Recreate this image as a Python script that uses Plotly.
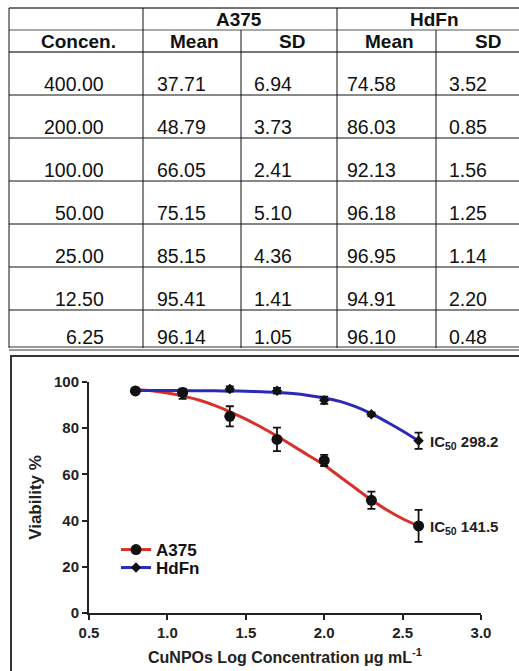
import plotly.graph_objects as go

# ---------------- data ----------------
conc_labels = ["400.00", "200.00", "100.00", "50.00", "25.00", "12.50", "6.25"]
log_conc = [2.602, 2.301, 2.000, 1.699, 1.398, 1.097, 0.796]
a375_mean = [37.71, 48.79, 66.05, 75.15, 85.15, 95.41, 96.14]
a375_sd = [6.94, 3.73, 2.41, 5.10, 4.36, 1.41, 1.05]
hdfn_mean = [74.58, 86.03, 92.13, 96.18, 96.95, 94.91, 96.10]
hdfn_sd = [3.52, 0.85, 1.56, 1.25, 1.14, 2.20, 0.48]

# fitted dose-response curves
fit_x = [0.80, 0.90, 1.00, 1.10, 1.20, 1.30, 1.40, 1.50, 1.60, 1.70,
         1.80, 1.90, 2.00, 2.10, 2.20, 2.30, 2.40, 2.50, 2.60]
a375_fit = [96.8, 96.2, 95.2, 93.9, 92.2, 89.9, 87.1, 83.9, 80.4, 76.5,
            72.4, 68.2, 64.0, 59.0, 54.0, 49.0, 44.6, 40.8, 37.7]
hdfn_fit = [96.3, 96.3, 96.3, 96.3, 96.2, 96.2, 96.1, 96.0, 95.8, 95.5,
            95.0, 94.2, 93.1, 91.6, 89.3, 86.3, 82.7, 78.8, 74.6]

group_labels = ["A375", "HdFn"]
sub_labels = ["Concen.", "Mean", "SD", "Mean", "SD"]
ic50_labels = ["IC<sub>50</sub> 141.5", "IC<sub>50</sub> 298.2"]

x_ticks = [0.5, 1.0, 1.5, 2.0, 2.5, 3.0]
y_ticks = [0, 20, 40, 60, 80, 100]

# ---------------- layout helpers ----------------
W, H = 519, 671
def fx(p):
    return p / W
def fy(p):
    return 1 - p / H

col_edges = [9, 143, 241, 337, 436, 531]
row_edges = [8, 30, 52, 95, 138, 181, 224, 267, 310, 348]

TFONT = "Liberation Sans, Arial, sans-serif"
RED = "#d8312b"
BLUE = "#2a2ab4"

fig = go.Figure()

# fitted curves
fig.add_trace(go.Scatter(x=fit_x, y=a375_fit, mode="lines", line=dict(color=RED, width=3, shape="spline"),
                         showlegend=False, hoverinfo="skip"))
fig.add_trace(go.Scatter(x=fit_x, y=hdfn_fit, mode="lines", line=dict(color=BLUE, width=3, shape="spline"),
                         showlegend=False, hoverinfo="skip"))
# data points with SD error bars
fig.add_trace(go.Scatter(x=log_conc, y=hdfn_mean, mode="markers",
                         marker=dict(symbol="diamond", size=8, color="#111"),
                         error_y=dict(type="data", array=hdfn_sd, color="#111", thickness=1.8, width=4),
                         showlegend=False))
fig.add_trace(go.Scatter(x=log_conc, y=a375_mean, mode="markers",
                         marker=dict(symbol="circle", size=11, color="#111"),
                         error_y=dict(type="data", array=a375_sd, color="#111", thickness=1.8, width=4),
                         showlegend=False))
# legend entries
fig.add_trace(go.Scatter(x=[None], y=[None], mode="lines+markers", name=group_labels[0], legend="legend",
                         line=dict(color=RED, width=3), marker=dict(symbol="circle", size=11, color="#111")))
fig.add_trace(go.Scatter(x=[None], y=[None], mode="lines+markers", name=group_labels[1], legend="legend2",
                         line=dict(color=BLUE, width=3), marker=dict(symbol="diamond", size=8, color="#111")))

shapes = []
def hline(y, x0, x1, color, w):
    shapes.append(dict(type="line", xref="paper", yref="paper", x0=fx(x0), x1=fx(x1), y0=fy(y), y1=fy(y),
                       line=dict(color=color, width=w)))
def vline(x, y0, y1, color, w):
    shapes.append(dict(type="line", xref="paper", yref="paper", x0=fx(x), x1=fx(x), y0=fy(y0), y1=fy(y1),
                       line=dict(color=color, width=w)))

# table lines
hline(row_edges[0], col_edges[0], col_edges[-1], "#444", 1.5)
hline(row_edges[1], col_edges[0], col_edges[-1], "#555", 1.2)
hline(row_edges[2], col_edges[0], col_edges[-1], "#777", 2)
for r in row_edges[3:-1]:
    hline(r, col_edges[0], col_edges[-1], "#111", 1)
hline(row_edges[-1] - 1, col_edges[0], col_edges[-1], "#777", 1.5)
hline(row_edges[-1] + 2, col_edges[0], col_edges[-1], "#777", 1.5)
for c in [col_edges[0], col_edges[1], col_edges[3]]:
    vline(c, row_edges[0], row_edges[-1], "#111", 1)
for c in [col_edges[2], col_edges[4]]:
    vline(c, row_edges[1], row_edges[-1], "#111", 1)

# chart frame
shapes.append(dict(type="rect", xref="paper", yref="paper", x0=fx(11), x1=fx(560), y0=fy(700), y1=fy(356),
                   line=dict(color="#333", width=2), fillcolor="rgba(0,0,0,0)"))

annotations = []
def txt(x, y, s, size, bold=False, anchor="center"):
    annotations.append(dict(xref="paper", yref="paper", x=fx(x), y=fy(y), text=s, showarrow=False,
                            xanchor=anchor, yanchor="middle",
                            font=dict(family=TFONT, size=size, color="#111", weight="bold" if bold else "normal")))

txt(239, 19, group_labels[0], 19, True)
txt(434, 19, group_labels[1], 19, True)
for s, xc in zip(sub_labels, [78, 194, 292, 389, 488]):
    txt(xc, 41, s, 19, True)

for i in range(len(conc_labels)):
    yc = row_edges[3 + i] - 11
    txt(106, yc, conc_labels[i], 19.5, anchor="right")
    txt(155, yc, f"{a375_mean[i]:.2f}", 19.5, anchor="left")
    txt(252, yc, f"{a375_sd[i]:.2f}", 19.5, anchor="left")
    txt(345, yc, f"{hdfn_mean[i]:.2f}", 19.5, anchor="left")
    txt(447, yc, f"{hdfn_sd[i]:.2f}", 19.5, anchor="left")

# IC50 labels
for lab, ys in zip(ic50_labels, [a375_mean[0], hdfn_mean[0]]):
    annotations.append(dict(xref="x", yref="y", x=log_conc[0], y=ys, text=lab, showarrow=False,
                            xanchor="left", yanchor="middle", xshift=9, yshift=-2,
                            font=dict(family=TFONT, size=15, color="#222", weight="bold")))

axis_font = dict(family=TFONT, size=15, color="#222", weight="bold")
leg_font = dict(family=TFONT, size=17, color="#111", weight="bold")
fig.update_layout(
    width=W, height=H,
    margin=dict(l=0, r=0, t=0, b=0, autoexpand=False),
    paper_bgcolor="white", plot_bgcolor="white",
    shapes=shapes, annotations=annotations,
    xaxis=dict(domain=[fx(89), fx(481)], range=[0.5, 3.0], tickvals=x_ticks, tickformat=".1f",
               showline=True, linecolor="#222", linewidth=2, ticks="outside", ticklen=5, tickwidth=2,
               tickcolor="#222", showgrid=False, zeroline=False, tickfont=axis_font,
               title=dict(text="CuNPOs Log Concentration \u03bcg mL<sup>-1</sup>", standoff=12,
                          font=dict(family=TFONT, size=16, color="#222", weight="bold"))),
    yaxis=dict(domain=[fy(613), fy(382)], range=[0, 100], tickvals=y_ticks,
               showline=True, linecolor="#222", linewidth=2, ticks="outside", ticklen=5, tickwidth=2,
               tickcolor="#222", showgrid=False, zeroline=False, tickfont=axis_font,
               title=dict(text="Viability %", standoff=8,
                          font=dict(family=TFONT, size=17, color="#222", weight="bold"))),
    legend=dict(x=fx(116), y=fy(550), xanchor="left", yanchor="middle", bgcolor="rgba(0,0,0,0)",
                font=leg_font, itemwidth=30),
    legend2=dict(x=fx(116), y=fy(568), xanchor="left", yanchor="middle", bgcolor="rgba(0,0,0,0)",
                 font=leg_font, itemwidth=30),
    showlegend=True,
)

fig.write_html("out.html", config={"displayModeBar": False},
               post_script="document.body.style.margin='0px';")
